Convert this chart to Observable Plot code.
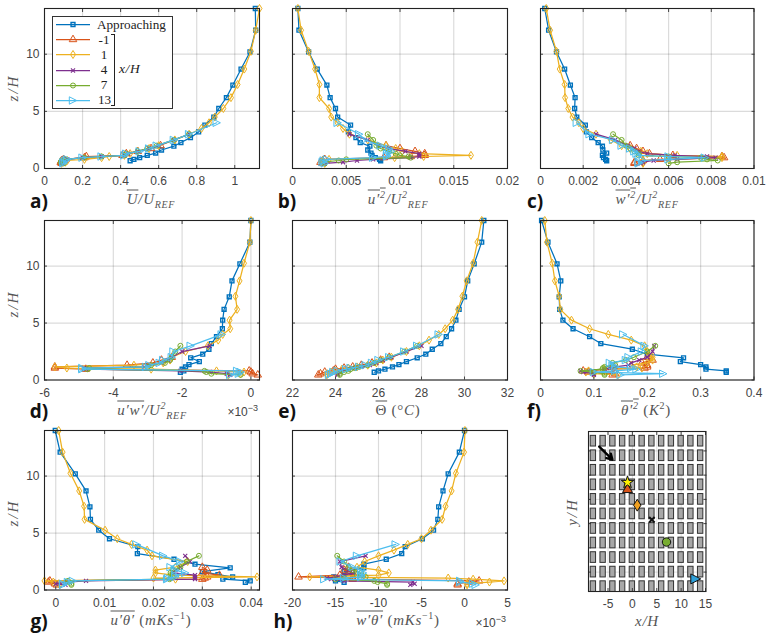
<!DOCTYPE html>
<html><head><meta charset="utf-8">
<script src="https://cdn.jsdelivr.net/npm/d3@7"></script>
<script src="https://cdn.jsdelivr.net/npm/@observablehq/plot@0.6"></script>
<style>
html,body{margin:0;padding:0;background:#fff}
#page{position:relative;width:770px;height:636px;overflow:hidden;font-family:"Liberation Sans",sans-serif}
#page>svg,#page>figure{position:absolute;margin:0}
.lab{position:absolute;transform:translate(-50%,-50%);white-space:nowrap;font:italic 15px/1 "Liberation Serif",serif;letter-spacing:.7px;color:#555}
.lab .up{font-style:normal}
.lab sub,.lab sup{font-size:10px;line-height:0}
.ov{text-decoration:overline}
.let{position:absolute;transform:translate(-50%,-50%);font:bold 19px/1 "Open Sans",sans-serif;color:#111}
.rot{transform:translate(-50%,-50%) rotate(-90deg);letter-spacing:2px}
.exp{position:absolute;transform:translate(-100%,-50%);font:12px/1 "Liberation Sans",sans-serif;color:#444;white-space:nowrap}
.exp sup{font-size:9px;line-height:0}
#legend{position:absolute;left:52px;top:16px;width:121px;height:93px;background:#fff;border:1.5px solid #333;box-sizing:border-box;font:13.2px "Liberation Serif",serif;color:#222}
#legend .row{position:absolute;left:2px;height:15px;display:flex;align-items:center}
#legend .row svg{flex:none}
#legend .name{position:absolute;left:42px;white-space:nowrap}
#legend .num{position:absolute;left:43px;width:12px;text-align:center;white-space:nowrap}
#bracket{position:absolute;left:58px;top:17px;width:3px;height:70px;border:1.5px solid #222;border-left:none;box-sizing:content-box}
#legx{position:absolute;left:66px;top:44px;font:italic 13.5px "Liberation Serif",serif;letter-spacing:.6px;color:#222}
</style></head><body><div id="page"></div>
<script>
const seriesNames = ["Approaching","-1","1","4","7","13"];
const seriesColors = ["#0072BD","#D95319","#EDB120","#7E2F8E","#77AC30","#4DBEEE"];

const zApp = [14,12.1,10.2,8.7,7.3,6.2,5.25,4.5,3.8,3.2,2.7,2.27,1.95,1.62,1.35,1.15,0.95,0.8,0.68];
const zOne = [14,12.1,10.25,8.7,7.35,6.2,5.25,4.5,4.0,3.5,3.0,2.5,2.0,1.75,1.5,1.3,1.15,1.05,0.95,0.8,0.7,0.55,0.45];
const zM1  = [2.0,1.75,1.5,1.3,1.15,1.05,0.95,0.8,0.7,0.55,0.45];
const zFour  = [3.0,2.5,2.0,1.75,1.5,1.3,1.15,1.05,0.95,0.8,0.7,0.55,0.45];
const zSeven = [3.0,2.5,2.0,1.75,1.5,1.3,1.15,1.05,0.95,0.8,0.7,0.55,0.45];
const zThirteen = [4.0,3.0,2.5,2.0,1.75,1.5,1.3,1.15,1.05,0.95,0.8,0.7,0.55,0.45];

// a) mean velocity
const uApp = [1.108,1.11,1.08,1.033,.99,.956,.916,.89,.843,.81,.767,.717,.68,.615,.584,.54,.50,.47,.45];
const uM1  = [.61,.56,.49,.43,.41,.22,.21,.10,.09,.085,.09];
const uOne = [1.13,1.11,1.085,1.05,1.015,.98,.94,.895,.865,.825,.76,.685,.6,.55,.49,.45,.42,.34,.3,.21,.12,.11,.09];
const uFour = [.76,.68,.6,.55,.49,.44,.42,.3,.2,.12,.11,.09,.09];
const uSeven = [.76,.68,.59,.54,.49,.43,.42,.3,.21,.11,.09,.085,.1];
const uThirteen = [.905,.76,.68,.59,.55,.5,.43,.42,.3,.2,.12,.11,.1,.1];

// b) u'2
const uuApp = [.0005,.0006,.0015,.0023,.0032,.0035,.0040,.0042,.0054,.0052,.0059,.0063,.0072,.0070,.0073,.0074,.0077,.0081,.0082];
const uuM1  = [.0087,.0100,.0114,.0123,.0123,.0110,.0085,.0030,.0028,.0026,.0028];
const uuOne = [.0005,.0008,.0015,.0021,.0025,.0025,.0034,.0036,.0042,.0047,.0053,.0070,.0087,.0096,.0102,.0118,.0166,.0122,.0095,.0034,.0028,.0027,.0030];
const uuFour = [.0053,.0070,.0080,.0090,.0105,.0118,.0118,.0118,.0110,.0075,.0060,.0047,.0030];
const uuSeven = [.0070,.0075,.0078,.0082,.0090,.0096,.0100,.0108,.0110,.0050,.0043,.0028,.0030];
const uuThirteen = [.0042,.0062,.0067,.0082,.0090,.0092,.0088,.0088,.0088,.0075,.0032,.0029,.0028,.0030];

// c) w'2
const wwApp = [.0002,.00038,.00075,.00113,.0014,.00162,.0016,.0017,.0021,.00215,.0024,.0027,.0029,.00292,.0031,.0029,.00295,.00305,.0031];
const wwM1  = [.0042,.0045,.0048,.0051,.0062,.0085,.0086,.0056,.0048,.0044,.0044];
const wwOne = [.00027,.00045,.00075,.0009,.00113,.00115,.0013,.0015,.0018,.0020,.0026,.0033,.0038,.0042,.0047,.0050,.0064,.0085,.0085,.0060,.0048,.0048,.0048];
const wwFour = [.0026,.0035,.0041,.0044,.0046,.0050,.0063,.0078,.0082,.0064,.0053,.0048,.0047];
const wwSeven = [.0034,.0038,.0040,.0042,.0044,.0046,.0046,.0060,.0075,.0078,.0083,.0064,.0060];
const wwThirteen = [.0017,.0023,.0034,.0038,.0042,.0044,.0045,.0046,.0060,.0077,.0060,.0048,.0046,.0046];

// d) u'w' (x 1e-3)
const uwApp = [0,-.03,-.32,-.55,-.63,-.78,-.82,-.83,-1.0,-1.15,-1.22,-1.4,-1.75,-1.5,-1.8,-1.9,-2.0,-1.95,-2.05];
const uwM1  = [-2.3,-2.6,-2.85,-3.6,-5.7,-5.7,-4.8,-.05,0,.05,.2];
const uwOne = [0,-.03,-.2,-.33,-.45,-.4,-.62,-.6,-.82,-.95,-1.25,-1.9,-2.3,-2.35,-2.55,-3.4,-5.7,-5.35,-2.9,-1.0,-.2,-.3,-.65];
const uwFour = [-1.2,-2.0,-2.3,-2.4,-2.6,-3.0,-3.1,-4.85,-4.8,-2.05,-1.2,-.7,-.6];
const uwSeven = [-2.05,-2.2,-2.3,-2.35,-2.5,-2.9,-3.0,-4.7,-4.75,-1.35,-1.3,-1.15,-.3];
const uwThirteen = [-.85,-1.75,-2.25,-2.3,-2.55,-2.65,-2.95,-3.05,-4.9,-4.9,-.4,-.3,-.35,-.6];

// e) mean temperature
const tApp = [30.9,30.8,30.45,30.15,30,29.75,29.6,29.4,29.15,28.9,28.5,28.2,27.8,27.3,26.95,26.65,26.3,26.0,25.8];
const tM1  = [26.5,26.1,25.7,25.2,24.8,24.4,24.0,23.9,23.5,23.3,23.2];
const tOne = [30.8,30.6,30.4,30.1,29.9,29.7,29.45,29.1,28.8,28.35,27.9,27.3,26.6,26.2,25.9,25.5,25,24.6,24.3,24.0,23.8,23.6,23.6];
const tFour = [28,27.3,26.6,26.2,25.9,25.6,25.2,24.9,24.6,24.3,24.2,24.1,24.1];
const tSeven = [27.8,27.2,26.5,26.1,25.8,25.5,25.1,24.9,24.7,24.6,24.4,24.2,24.2];
const tThirteen = [28.8,27.8,27.2,26.5,26,25.7,25.4,25.1,24.7,24.5,24.1,23.9,23.8,23.7];

// f) theta'2
const ttApp = [.002,.014,.031,.038,.035,.036,.042,.061,.092,.113,.172,.2,.268,.262,.30,.31,.31,.348,.348];
const ttM1  = [.20,.21,.19,.2,.2,.195,.13,.08,.09,.14,.135];
const ttOne = [.008,.012,.022,.027,.035,.037,.058,.092,.127,.170,.195,.20,.21,.21,.20,.17,.18,.19,.12,.09,.085,.10,.145];
const ttFour = [.213,.21,.2,.185,.17,.165,.14,.13,.12,.075,.08,.10,.10];
const ttSeven = [.215,.20,.175,.16,.135,.14,.12,.117,.116,.075,.1,.12,.12];
const ttThirteen = [.155,.195,.19,.165,.16,.13,.135,.14,.17,.18,.14,.1,.23,.15];

// g) u'theta'
const utApp = [-.0001,.0009,.004,.0062,.007,.0071,.0088,.0110,.0168,.0167,.0242,.0285,.0357,.0300,.0332,.0362,.0342,.0398,.0388];
const utM1  = [.03,.031,.03,.0335,.031,.0305,.03,-.0012,-.0015,-.0002,.0002];
const utOne = [.0006,.0014,.003,.0048,.0058,.0059,.0101,.0126,.0155,.0187,.0197,.027,.0245,.0204,.0204,.024,.0412,.02,.0245,-.0023,-.0005,.0006,.0008];
const utFour = [.0265,.0275,.0255,.0245,.024,.0285,.0285,.0285,.0285,.0062,.0023,0,.002];
const utSeven = [.0293,.0268,.0255,.024,.0235,.0235,.024,.0235,.0233,.0025,.0022,.0032,.0032];
const utThirteen = [.0165,.022,.0255,.0235,.0245,.0265,.0245,.0245,.023,.0228,.0035,.0025,.0015,.0015];

// h) w'theta' (x 1e-3)
const wtApp = [0,-.6,-1.9,-2.5,-3,-3.1,-3.6,-4.9,-6.9,-7.3,-9.1,-11.7,-11.7,-14,-13,-15.2,-14.5,-15,-14];
const wtM1  = [-13.5,-14,-13,-14.5,-19.3,-13,-13,1.7,.5,-.8,-.8];
const wtOne = [.05,-.05,-1,-1.5,-2.2,-2.6,-3.9,-5,-6.6,-8.2,-10,-11.6,-12.5,-10,-8.8,-10,-18,-1.9,1.0,4.6,2.9,.3,.3];
const wtFour = [-11.5,-14.5,-14.3,-13.5,-13,-14,-15,-16,-15.5,-14,-6,-5.8,-6.3];
const wtSeven = [-14.8,-14,-13.5,-13,-12,-12.5,-11.5,-14,-15,-10.5,-10.1,-9,-9];
const wtThirteen = [-8,-12.5,-14.4,-13,-12,-11.8,-12,-12,-14,-16.3,-.5,-.5,1,1.3];

// tick labels
const zTicks = [0,5,10];
const ticksA = [0,.2,.4,.6,.8,1];
const ticksB = [0,.005,.01,.015,.02];
const ticksC = [0,.002,.004,.006,.008,.01];
const ticksD = [-6,-4,-2,0];
const ticksE = [22,24,26,28,30,32];
const ticksF = [0,.1,.2,.3,.4];
const ticksG = [0,.01,.02,.03,.04];
const ticksH = [-20,-15,-10,-5,0,5];

// site map
const bldgX = [-8,-6,-4,-2,0,2,4,6,8,10,12,14];
const bldgY = [1,4,7,10,13,16,19,22,25,28,31];
const mapXTicks = [-5,0,5,10,15];
const mapYTicks = [4,9,14,19,24,29];
const arrowFrom = [-6.8,29.9];
const arrowTo = [-4.1,27.2];
const locX = [-1,1,4,7,13];
const locY = [21,17.8,14.8,10.2,2.6];
const starX = [-1];
const starY = [22.5];

const narrowDiamond = {draw(c,s){const r=Math.sqrt(s)*0.78,w=r*0.62;c.moveTo(0,-r);c.lineTo(w,0);c.lineTo(0,r);c.lineTo(-w,0);c.closePath();}};
const rightTriangle = {draw(c,s){const r=Math.sqrt(s)*0.72;c.moveTo(r,0);c.lineTo(-r,r);c.lineTo(-r,-r);c.closePath();}};
const seriesSymbols = ["square","triangle",narrowDiamond,"times","circle",rightTriangle];
const seriesSizes = [2.2,2.8,2.9,2,2.5,2.9];
const seriesMarkerWidth = [1.4,1,1,1.1,1,1];
const zLists = [zApp,zM1,zOne,zFour,zSeven,zThirteen];

const page = document.getElementById("page");
const pad = 34;
const axisFont = {fontSize:"12px",fontFamily:"Liberation Sans, sans-serif",overflow:"visible",background:"transparent",color:"#444"};

function place(node,x0,y0){node.style.position="absolute";node.style.left=(x0-pad)+"px";node.style.top=(y0-pad)+"px";node.style.overflow="visible";page.appendChild(node);}

function tickAxes(xt,yt,showY,fmt){
  const tk={tickSize:-3,strokeWidth:0.9,color:"#333",label:null};
  return [
    Plot.axisX({...tk,ticks:xt,anchor:"bottom",tickPadding:11,tickFormat:fmt,fill:"#444"}),
    Plot.axisX({...tk,ticks:xt,anchor:"top",fill:"none"}),
    Plot.axisY({...tk,ticks:yt,anchor:"left",tickPadding:8,fill:showY?"#444":"none",tickFormat:d=>String(d)}),
    Plot.axisY({...tk,ticks:yt,anchor:"right",fill:"none"})
  ];
}

function panel(x0,x1,y0,y1,domain,xt,values,showY){
  const marks=[
    Plot.gridX(xt,{x:d=>d,stroke:"#000",strokeOpacity:.14,strokeWidth:1.2}),
    Plot.gridY(zTicks,{y:d=>d,stroke:"#000",strokeOpacity:.14,strokeWidth:1.2})
  ];
  values.forEach((vals,i)=>{
    const rows=vals.map((v,k)=>({v,z:zLists[i][k]}));
    marks.push(Plot.line(rows,{x:"v",y:"z",stroke:seriesColors[i],strokeWidth:1.25,curve:"linear"}));
    marks.push(Plot.dot(rows,{x:"v",y:"z",stroke:seriesColors[i],fill:"none",symbol:seriesSymbols[i],r:seriesSizes[i],strokeWidth:seriesMarkerWidth[i]}));
  });
  marks.push(...tickAxes(xt,zTicks,showY,d=>String(d)));
  marks.push(Plot.frame({stroke:"#222",strokeWidth:1.1}));
  const p=Plot.plot({width:x1-x0+2*pad,height:y1-y0+2*pad,marginLeft:pad,marginRight:pad,marginTop:pad,marginBottom:pad,
    style:axisFont,x:{domain,axis:null},y:{domain:[0,14],axis:null},marks});
  place(p,x0,y0);
}

const col=[[44,259],[292,507],[539.5,753]];
const row=[[8,168],[219.5,379],[429.5,589]];
panel(col[0][0],col[0][1],row[0][0],row[0][1],[0,1.13],ticksA,[uApp,uM1,uOne,uFour,uSeven,uThirteen],true);
panel(col[1][0],col[1][1],row[0][0],row[0][1],[0,.02],ticksB,[uuApp,uuM1,uuOne,uuFour,uuSeven,uuThirteen],false);
panel(col[2][0],col[2][1],row[0][0],row[0][1],[0,.01],ticksC,[wwApp,wwM1,wwOne,wwFour,wwSeven,wwThirteen],false);
panel(col[0][0],col[0][1],row[1][0],row[1][1],[-6,.25],ticksD,[uwApp,uwM1,uwOne,uwFour,uwSeven,uwThirteen],true);
panel(col[1][0],col[1][1],row[1][0],row[1][1],[22,32],ticksE,[tApp,tM1,tOne,tFour,tSeven,tThirteen],false);
panel(col[2][0],col[2][1],row[1][0],row[1][1],[0,.4],ticksF,[ttApp,ttM1,ttOne,ttFour,ttSeven,ttThirteen],false);
panel(col[0][0],col[0][1],row[2][0],row[2][1],[-.0023,.0417],ticksG,[utApp,utM1,utOne,utFour,utSeven,utThirteen],true);
panel(col[1][0],col[1][1],row[2][0],row[2][1],[-20,5],ticksH,[wtApp,wtM1,wtOne,wtFour,wtSeven,wtThirteen],false);

// site map
{
  const cells=bldgY.flatMap(y=>bldgX.map(x=>({x,y})));
  const locs=locX.map((x,i)=>({x,y:locY[i]}));
  const mx0=588,mx1=705.5,my0=431,my1=591;
  const marks=[
    Plot.gridX(mapXTicks,{x:d=>d,stroke:"#000",strokeOpacity:.12}),
    Plot.gridY(mapYTicks,{y:d=>d,stroke:"#000",strokeOpacity:.12}),
    Plot.rect(cells,{x1:d=>d.x-.55,x2:d=>d.x+.55,y1:d=>d.y-1.1,y2:d=>d.y+1.1,fill:"#a8a8a8",stroke:"#333",strokeWidth:1}),
    Plot.arrow([{a:arrowFrom,b:arrowTo}],{x1:d=>d.a[0],y1:d=>d.a[1],x2:d=>d.b[0],y2:d=>d.b[1],stroke:"#000",strokeWidth:2.4,headLength:5,bend:0}),
    Plot.dot([locs[0]],{x:"x",y:"y",symbol:"triangle",r:3.7,fill:"#D95319",stroke:"#111",strokeWidth:1}),
    Plot.dot(starX.map((x,i)=>({x,y:starY[i]})),{x:"x",y:"y",symbol:"star",r:3.9,fill:"#FFF200",stroke:"#111",strokeWidth:1}),
    Plot.dot([locs[1]],{x:"x",y:"y",symbol:narrowDiamond,r:4.3,fill:"#F0A020",stroke:"#111",strokeWidth:1}),
    Plot.dot([locs[2]],{x:"x",y:"y",symbol:"times",r:2.6,stroke:"#111",strokeWidth:2}),
    Plot.dot([locs[3]],{x:"x",y:"y",symbol:"circle",r:4.2,fill:"#77AC30",stroke:"#111",strokeWidth:1}),
    Plot.dot([locs[4]],{x:"x",y:"y",symbol:rightTriangle,r:3.9,fill:"#2E9FD8",stroke:"#111",strokeWidth:1}),
    ...tickAxes(mapXTicks,mapYTicks,false,d=>String(d)),
    Plot.frame({stroke:"#222",strokeWidth:1.1})
  ];
  const p=Plot.plot({width:mx1-mx0+2*pad,height:my1-my0+2*pad,marginLeft:pad,marginRight:pad,marginTop:pad,marginBottom:pad,
    style:axisFont,x:{domain:[-9,15.1],axis:null},y:{domain:[0,33],axis:null},marks});
  place(p,mx0,my0);
}

// text labels
function lab(x,y,html,cls="lab"){const d=document.createElement("div");d.className=cls;d.style.left=x+"px";d.style.top=y+"px";d.innerHTML=html;page.appendChild(d);}
const letters=[["a)",39,201],["b)",287,201],["c)",535,201],["d)",39,411],["e)",287,411],["f)",534,411],["g)",39,621],["h)",283,621]];
letters.forEach(l=>lab(l[1],l[2],l[0],"let"));
lab(151,199,'<span class="ov">U</span>/U<sub>REF</sub>');
lab(398,199,'<span class="ov">u\u2032<sup>2</sup></span>/U<sup>2</sup><sub>REF</sub>');
lab(647,199,'<span class="ov">w\u2032<sup>2</sup></span>/U<sup>2</sup><sub>REF</sub>');
lab(152,410,'<span class="ov">u\u2032w\u2032</span>/U<sup>2</sup><sub>REF</sub>');
lab(398,410,'<span class="ov up">\u0398</span> <span class="up">(\u00b0</span>C<span class="up">)</span>');
lab(646,410,'<span class="ov">\u03b8\u2032<sup>2</sup></span> <span class="up">(</span>K<sup class="up">2</sup><span class="up">)</span>');
lab(151,620,'<span class="ov">u\u2032\u03b8\u2032</span> <span class="up">(</span>mKs<sup class="up">\u22121</sup><span class="up">)</span>');
lab(398,620,'<span class="ov">w\u2032\u03b8\u2032</span> <span class="up">(</span>mKs<sup class="up">\u22121</sup><span class="up">)</span>');
[88,304,513].forEach(y=>lab(13,y,'z/H','lab rot'));
lab(647,621,'x/H');
lab(572,512,'y/H','lab rot');
lab(258,412,'\u00d710<sup>\u22123</sup>','exp');
lab(506,623,'\u00d710<sup>\u22123</sup>','exp');

// legend
const leg=document.createElement("div");leg.id="legend";
seriesNames.forEach((name,i)=>{
  const sym=d3.symbol().type(i===0?d3.symbolSquare:i===1?d3.symbolTriangle:i===3?d3.symbolTimes:i===4?d3.symbolCircle:{draw:(i===2?narrowDiamond:rightTriangle).draw}).size(seriesSizes[i]*seriesSizes[i]*Math.PI)();
  const r=document.createElement("div");r.className="row";r.style.top=(0.2+i*15.1)+"px";
  r.innerHTML=`<svg width="36" height="13"><line x1="1" x2="35" y1="6.5" y2="6.5" stroke="${seriesColors[i]}" stroke-width="1.25"/><path d="${sym}" transform="translate(18,6.5)" fill="none" stroke="${seriesColors[i]}" stroke-width="${seriesMarkerWidth[i]}"/></svg><span class="${i===0?"name":"num"}">${name}</span>`;
  leg.appendChild(r);
});
const br=document.createElement("div");br.id="bracket";leg.appendChild(br);
const lx=document.createElement("div");lx.id="legx";lx.textContent="x/H";leg.appendChild(lx);
page.appendChild(leg);
</script></body></html>
